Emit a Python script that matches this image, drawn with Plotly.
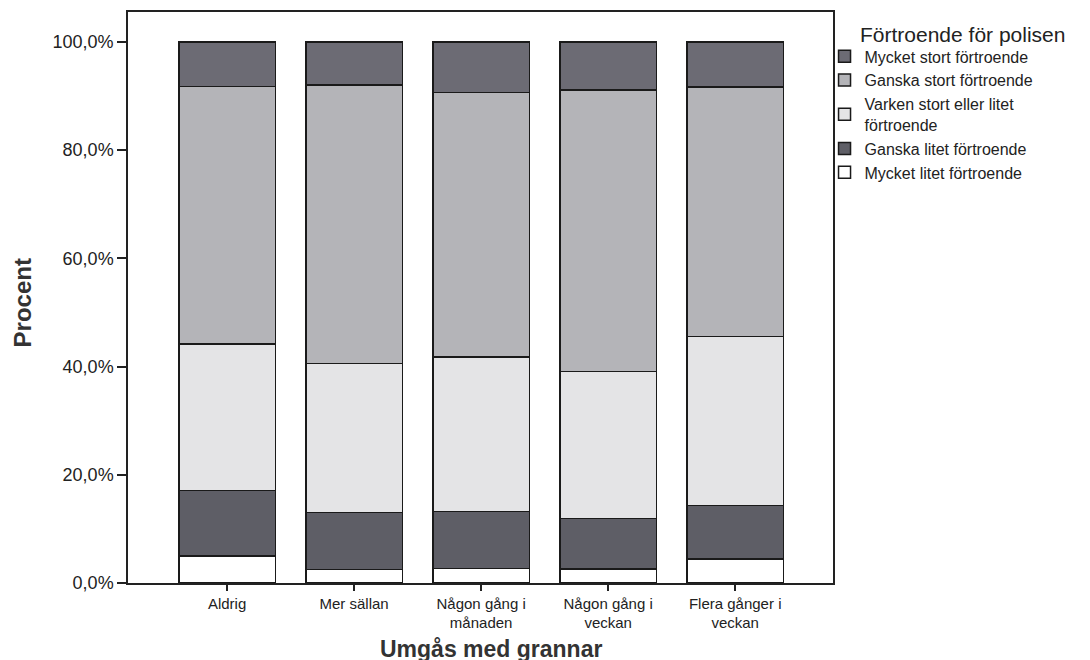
import plotly.graph_objects as go

categories = ["Aldrig", "Mer sällan", "Någon gång i<br>månaden", "Någon gång i<br>veckan", "Flera gånger i<br>veckan"]

series_names = [
    "Mycket litet förtroende",
    "Ganska litet förtroende",
    "Varken stort eller litet<br>förtroende",
    "Ganska stort förtroende",
    "Mycket stort förtroende",
]
mycket_litet = [5.0, 2.5, 2.7, 2.6, 4.4]
ganska_litet = [12.1, 10.5, 10.5, 9.3, 9.9]
varken = [27.1, 27.6, 28.6, 27.2, 31.2]
ganska_stort = [47.5, 51.4, 48.8, 52.0, 46.1]
mycket_stort = [8.3, 8.0, 9.4, 8.9, 8.4]

series_values = [mycket_litet, ganska_litet, varken, ganska_stort, mycket_stort]
colors = ["#ffffff", "#5e5e66", "#e4e4e6", "#b4b4b8", "#6c6b74"]

tick_vals = [0, 20, 40, 60, 80, 100]
tick_text = ["0,0%", "20,0%", "40,0%", "60,0%", "80,0%", "100,0%"]

fig = go.Figure()
for name, vals, col in zip(series_names, series_values, colors):
    fig.add_trace(go.Bar(
        x=categories, y=vals, name=name,
        marker=dict(color=col, line=dict(color="#1a1a1a", width=1.5)),
    ))

font_main = "Liberation Sans, Arial, sans-serif"

fig.update_layout(
    barmode="stack",
    bargap=0.24,
    width=1090, height=660,
    margin=dict(l=120, r=265, t=4, b=85),
    paper_bgcolor="white", plot_bgcolor="white",
    font=dict(family=font_main, size=17, color="#222222"),
    showlegend=True,
    legend=dict(
        traceorder="reversed",
        x=0.988, xanchor="left", y=0.952, yanchor="top",
        font=dict(size=16, color="#222222"),
        itemwidth=30, tracegroupgap=0,
        bgcolor="rgba(0,0,0,0)",
    ),
    xaxis=dict(
        range=[-0.78, 4.77],
        showline=True, linecolor="#222222", linewidth=1.5, mirror=True,
        ticks="outside", ticklen=6, tickcolor="#222222", tickwidth=1.5,
        tickfont=dict(size=15, color="#222222"),
        showgrid=False, automargin=False,
    ),
    yaxis=dict(
        range=[0, 105.5],
        showline=True, linecolor="#222222", linewidth=1.5, mirror=True,
        ticks="outside", ticklen=9, tickcolor="#222222", tickwidth=1.5,
        tickvals=tick_vals, ticktext=tick_text,
        tickfont=dict(size=18, color="#222222"),
        showgrid=False, zeroline=False, automargin=False,
    ),
    annotations=[
        dict(text="Förtroende för polisen", xref="paper", yref="paper",
             x=1.036, y=0.96, xanchor="left", yanchor="middle", showarrow=False,
             font=dict(size=21, color="#222222")),
        dict(text="<b>Umgås med grannar</b>", xref="paper", yref="paper",
             x=0.515, y=-0.115, xanchor="center", yanchor="middle", showarrow=False,
             font=dict(size=23, color="#333333")),
        dict(text="<b>Procent</b>", xref="paper", yref="paper", textangle=-90,
             x=-0.150, y=0.49, xanchor="center", yanchor="middle", showarrow=False,
             font=dict(size=24, color="#333333")),
    ],
)

fig.write_html("out.html")
